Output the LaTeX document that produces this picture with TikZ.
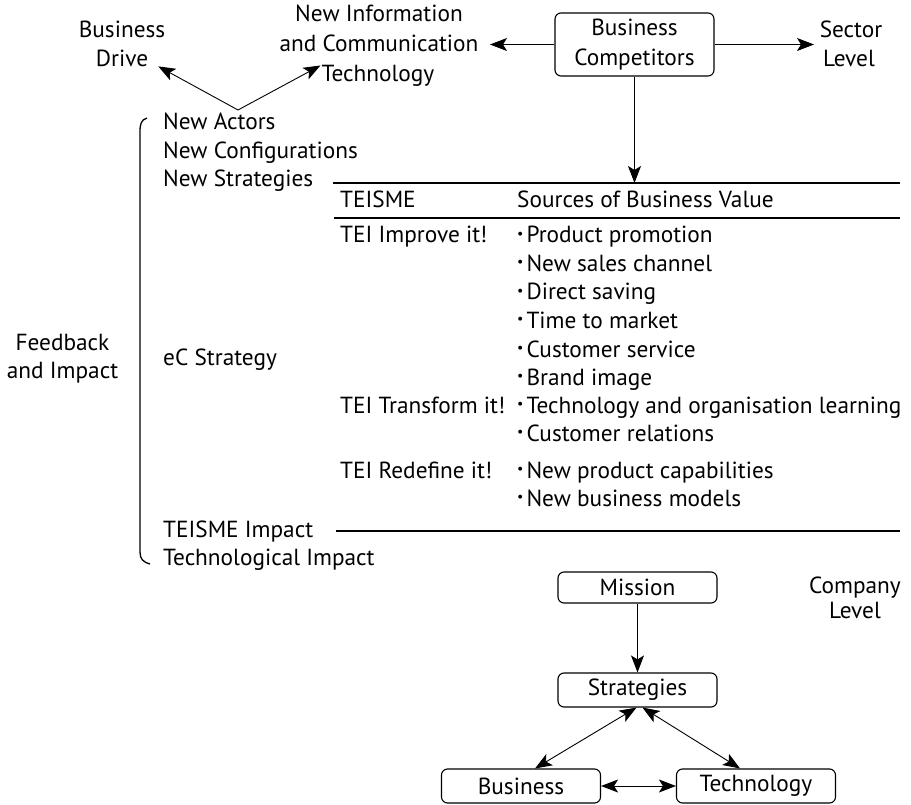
\documentclass[tikz,border=0pt]{standalone}
\usepackage{fontspec}
\setmainfont{PT Sans}
\usetikzlibrary{arrows.meta}
\newcommand\smallbul{\raisebox{0.2em}{\fontsize{14}{14}\selectfont\textbullet}\hspace{3pt}}
\tikzset{hd/.tip={Stealth[length=17pt,width=13pt,inset=4pt]}}
\begin{document}
\begin{tikzpicture}[x=1pt,y=-1pt,
  txt/.style={inner sep=0pt, font=\fontsize{23.3}{28.7}\selectfont},
  lbl/.style={txt, anchor=base},
  lblw/.style={txt, anchor=base west},
  box/.style={draw, rounded corners=6pt, line width=1.1pt, minimum width=159pt,
              inner sep=0pt, align=center, txt},
  arr/.style={line width=0.9pt, -{hd}},
  darr/.style={line width=0.9pt, {hd}-{hd}},
  rule/.style={line width=1.8pt},
  brace/.style={line width=1.3pt}]
\useasboundingbox (0,0) rectangle (911,805);

% ---- sector level ----
\node[box, minimum height=63pt] (bc) at (634.5,44.5) {Business\\[1pt]Competitors};

\node[lbl] (bd1) at (122,38) {Business};
\node[lbl] (bd2) at (122,67) {Drive};

\node[lbl] (ict1) at (379,22) {New Information};
\node[lbl] (ict2) at (379,52) {and Communication};
\node[lbl] (ict3) at (378,82) {Technology};

\node[lbl] (sl1) at (851,38) {Sector};
\node[lbl] (sl2) at (849,67) {Level};

\coordinate (apex) at (238,110);
\coordinate (ictTip) at (490,44.5);
\coordinate (slTip) at (814,44.5);
\coordinate (ruleA) at (634.5,183);

\draw[arr] (apex) -- ([shift={(10,7.5)}]bd2.east);
\draw[arr] (apex) -- ([shift={(-1,0)}]ict3.north west);
\draw[arr] (bc.west) -- (ictTip);
\draw[arr] (bc.east) -- (slTip);
\draw[arr] (bc.south) -- (ruleA);

% ---- left column ----
\draw[brace] (147,118) .. controls (141,120) and (140,124) .. (140,132)
  -- (140,552) .. controls (140,559) and (143,562) .. (150,564);

\node[lbl] (fb1) at (62.5,350) {Feedback};
\node[lbl] (fb2) at (62.5,378) {and Impact};

\node[lblw] (na) at (163,130) {New Actors};
\node[lblw] (nc) at (163,158.5) {New Configurations};
\node[lblw] (ns) at (163,187) {New Strategies};
\node[lblw] (ec) at (163,365) {eC Strategy};
\node[lblw] (ti) at (163,537) {TEISME Impact};
\node[lblw] (tg) at (163,565) {Technological Impact};

% ---- table ----
\draw[rule] (333,183) -- (900,183);
\draw[rule] (334,218) -- (900,218);
\draw[rule] (336,531) -- (900,531);

\node[lblw] (h1) at (340,208) {TEISME};
\node[lblw] (h2) at (517,208) {Sources of Business Value};

\node[lblw] (t1) at (340,243) {TEI Improve it!};
\node[lblw] (s1) at (517,243) {\smallbul Product promotion};
\node[lblw] (s2) at (517,271.5) {\smallbul New sales channel};
\node[lblw] (s3) at (517,300) {\smallbul Direct saving};
\node[lblw] (s4) at (517,328.5) {\smallbul Time to market};
\node[lblw] (s5) at (517,357) {\smallbul Customer service};
\node[lblw] (s6) at (517,385.5) {\smallbul Brand image};

\node[lblw] (t2) at (340,413) {TEI Transform it!};
\node[lblw] (s7) at (517,413) {\smallbul Technology and organisation learning};
\node[lblw] (s8) at (517,441) {\smallbul Customer relations};

\node[lblw] (t3) at (340,478) {TEI Redefine it!};
\node[lblw] (s9) at (517,478) {\smallbul New product capabilities};
\node[lblw] (s10) at (517,506) {\smallbul New business models};

% ---- company level ----
\node[box, minimum height=31pt] (mis) at (637.5,587.5) {Mission};
\node[box, minimum height=34pt] (str) at (637.5,690) {Strategies};
\node[box, minimum height=34pt] (bus) at (521,786) {Business};
\node[box, minimum height=34pt] (tec) at (756,786) {Technology};

\node[lbl] (cl1) at (855,593) {Company};
\node[lbl] (cl2) at (855,618) {Level};

\draw[arr] (mis.south) -- (str.north);
\draw[darr] ([xshift=-1pt]str.south) -- ([xshift=14pt]bus.north);
\draw[darr] ([xshift=5pt]str.south) -- ([xshift=-16pt]tec.north);
\draw[darr] (bus.east) -- (tec.west);
\end{tikzpicture}
\end{document}
